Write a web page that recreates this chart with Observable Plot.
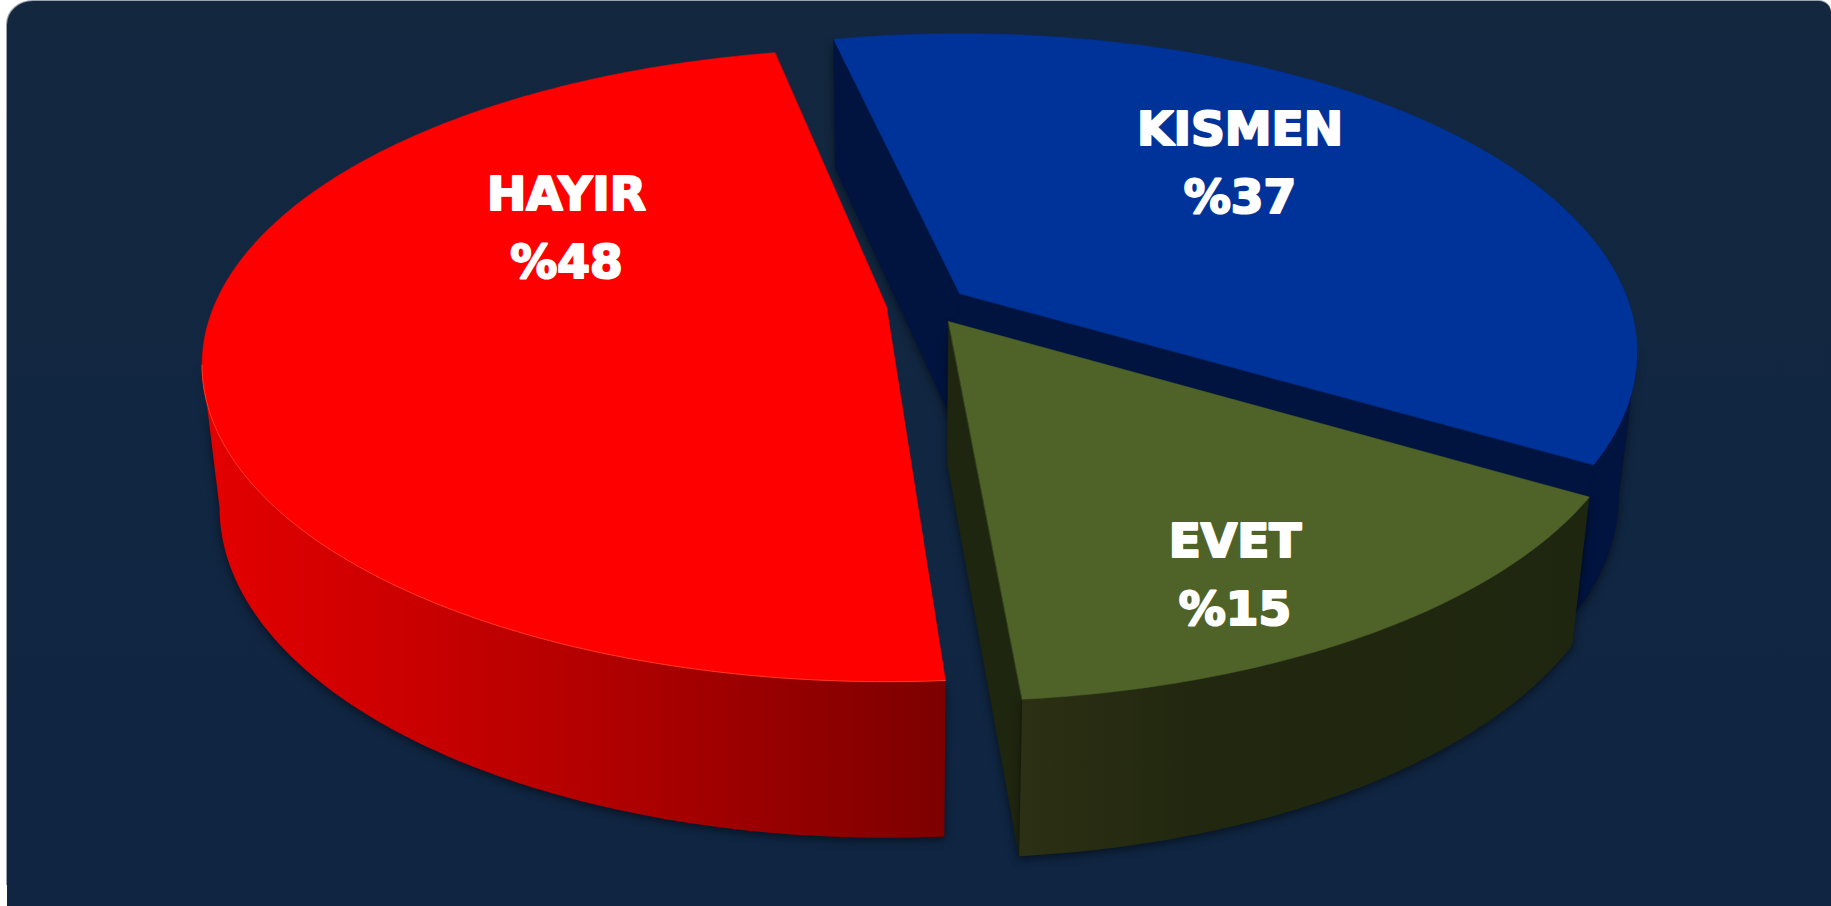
<!DOCTYPE html>
<html lang="tr">
<head>
<meta charset="utf-8">
<script src="https://cdn.jsdelivr.net/npm/d3@7"></script>
<script src="https://cdn.jsdelivr.net/npm/@observablehq/plot@0.6"></script>
<style>
html,body{margin:0;padding:0;width:1831px;height:906px;overflow:hidden;background:#fff}
#edge{position:absolute;left:6px;top:0;width:1825px;height:885px;background:#9aa3ad;border-top-left-radius:27px 24px;border-top-right-radius:12px}
#panel{position:absolute;left:7px;top:1px;width:1824px;height:905px;background:linear-gradient(#13273f,#0f2542);border-top-left-radius:26px 24px;border-top-right-radius:12px}
#chart{position:absolute;left:0;top:0}
#chart svg{background:transparent;display:block}
</style>
</head>
<body>
<div id="edge"></div>
<div id="panel"></div>
<div id="chart"></div>
<script>
// ---- data, clockwise from the back of the pie ----
const categories = ["KISMEN", "EVET", "HAYIR"];
const shares = [37, 15, 48];
const shareLabels = ["%37", "%15", "%48"];

// ---- colours ----
const topColors = ["#003399", "#4f6228", "#ff0000"];
const cutColors = ["#00143f", "#1f260f", "#7f0000"];

// ---- layout: the tilted disc and the pulled-out slices ----
const W = 1831, H = 906;
const radiusX = 672.6, radiusY = 304.8, tilt = 0.185;
const startDegrees = 257.8;
const vertexX = [959, 948, 886];
const vertexY = [293, 321, 306];
const fitX = [0.99, 1.005, 1];
const fitY = [1.01, 1.015, 1.003];
const turnDegrees = [-0.7, -0.1, 0.9];
const vanishX = 900, shrink = 0.975, depth = 157, depthSlope = 0.043, depthRefY = 700;
const tangent = Math.asin(tilt);
const labelX = [1239.5, 1234.5, 566];
const labelNameY = [144, 556, 209];
const labelShareY = [212, 624, 277];

const arcs = d3.pie().sort(null).value(d => d)
  .startAngle(startDegrees * Math.PI / 180)
  .endAngle((startDegrees + 360) * Math.PI / 180)(shares)
  .map((a, i) => {
    const t = turnDegrees[i] * Math.PI / 180;
    return {startAngle: a.startAngle + t, endAngle: a.endAngle + t};
  });

// a point of the disc seen in perspective; angle runs clockwise on screen from +x
function project(i, angle, r = 1) {
  const c = Math.cos(angle) * r, s = Math.sin(angle) * r, d = 1 - tilt * s;
  return {x: vertexX[i] + fitX[i] * radiusX * c / d, y: vertexY[i] + fitY[i] * radiusY * s / d};
}
const down = p => ({x: vanishX + shrink * (p.x - vanishX), y: p.y + depth + depthSlope * (p.y - depthRefY)});
function arcPoints(i, a0, a1) {
  const n = Math.max(2, Math.ceil(Math.abs(a1 - a0) / 0.012));
  return d3.range(n + 1).map(k => project(i, a0 + (a1 - a0) * k / n));
}
const topFace = i => [project(i, 0, 0), ...arcPoints(i, arcs[i].startAngle, arcs[i].endAngle)];
const cutWall = (i, angle) => {
  const v = project(i, 0, 0), e = project(i, angle);
  return [v, e, down(e), down(v)];
};
const outerWall = (i, a0, a1) => {
  const arc = arcPoints(i, a0, a1);
  return [...arc, ...arc.map(down).reverse()];
};

const [K, E, R] = [0, 1, 2];
const shadow = "drop-shadow(0 3px 4px rgba(0,0,0,.5))";
const piece = (pts, fill, extra = {}) => Plot.line(pts, {x: "x", y: "y", curve: "linear-closed", fill, stroke: fill, strokeWidth: 0.5, ...extra});

const defs = () => {
  const d = d3.create("svg:defs");
  const grad = (id, stops) => {
    const g = d.append("linearGradient").attr("id", id).attr("x1", 0).attr("x2", 1).attr("y1", 0).attr("y2", 0);
    stops.forEach(([o, c]) => g.append("stop").attr("offset", o).attr("stop-color", c));
  };
  grad("redWall", [[0, "#e40000"], [0.3, "#c80000"], [0.55, "#b00000"], [0.8, "#930000"], [1, "#7d0000"]]);
  grad("greenWall", [[0, "#2c3014"], [0.3, "#22280f"], [1, "#1f260f"]]);
  return d.node();
};

const names = categories.map((c, i) => ({c, x: labelX[i], y: labelNameY[i]}));
const pct = shareLabels.map((c, i) => ({c, x: labelX[i], y: labelShareY[i]}));
const textOptions = {
  x: "x", y: "y", text: "c", fill: "#fff", stroke: "#fff", strokeWidth: 2.2,
  fontFamily: "'DejaVu Sans'", fontWeight: "bold", fontSize: 47, textAnchor: "middle", lineAnchor: "bottom"
};
const redFront = arcs[R].startAngle;
const redLeft = 3 * Math.PI - tangent;

const chart = Plot.plot({
  width: W, height: H, margin: 0,
  x: {domain: [0, W], range: [0, W], axis: null},
  y: {domain: [0, H], range: [0, H], axis: null},
  marks: [
    defs,
    // KISMEN
    piece(cutWall(K, arcs[K].startAngle), cutColors[K], {imageFilter: shadow}),
    piece(outerWall(K, tangent + 2 * Math.PI, arcs[K].endAngle), cutColors[K], {imageFilter: shadow}),
    piece(cutWall(K, arcs[K].endAngle), cutColors[K]),
    piece(topFace(K), topColors[K]),
    // EVET
    piece(cutWall(E, arcs[E].endAngle), cutColors[E], {imageFilter: shadow}),
    piece(outerWall(E, arcs[E].startAngle, arcs[E].endAngle), "url(#greenWall)", {imageFilter: shadow, stroke: "none"}),
    piece(topFace(E), topColors[E]),
    // HAYIR
    piece(outerWall(R, redFront, redLeft), "url(#redWall)", {imageFilter: shadow, stroke: "none"}),
    piece(topFace(R), topColors[R]),
    Plot.line(arcPoints(R, redFront, redLeft), {x: "x", y: "y", stroke: "#ff3a22", strokeWidth: 1}),
    // labels
    Plot.text(names, textOptions),
    Plot.text(pct, textOptions)
  ]
});
document.getElementById("chart").append(chart);
</script>
</body>
</html>
